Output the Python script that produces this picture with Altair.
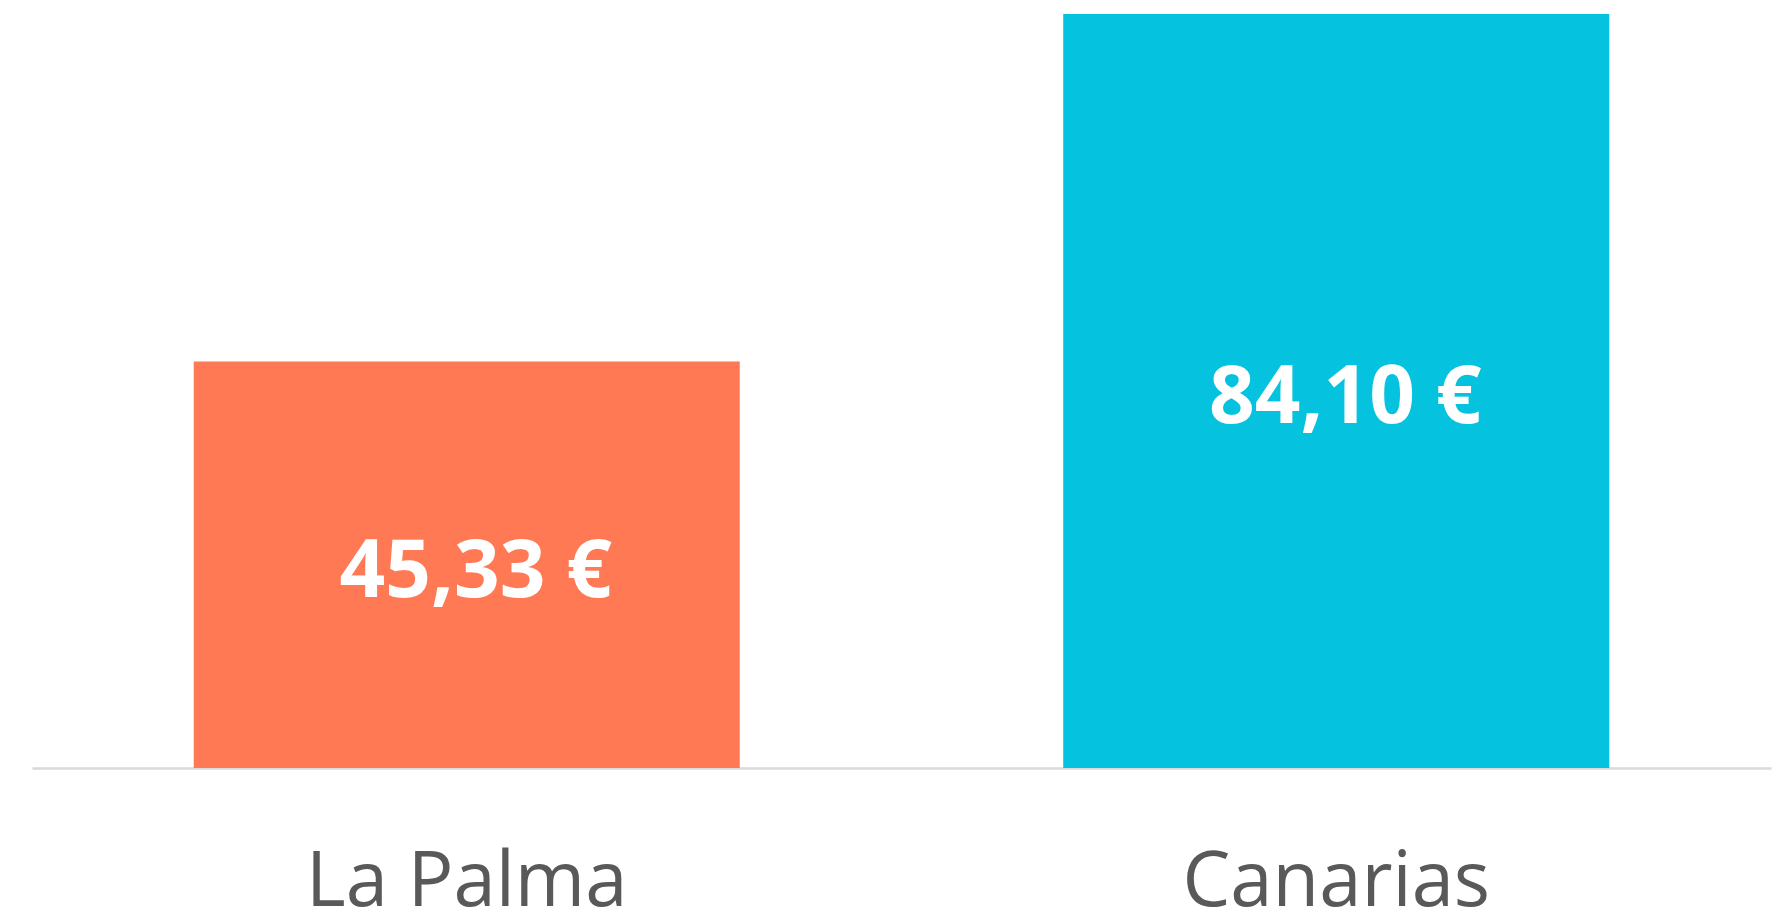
import altair as alt
import pandas as pd

categories = ["La Palma", "Canarias"]
values = [45.33, 84.10]
value_labels = ["45,33 €", "84,10 €"]
colors = ["#FF7A54", "#05C3DE"]

df = pd.DataFrame({"cat": categories, "val": values, "lab": value_labels})

x = alt.X("cat:N", sort=categories, title=None,
          scale=alt.Scale(paddingInner=0.372, paddingOuter=0.186))
y_scale = alt.Scale(domain=[0, 84.10], nice=False, zero=True)

bars = alt.Chart(df).mark_bar().encode(
    x=x,
    y=alt.Y("val:Q", scale=y_scale, axis=None),
    color=alt.Color("cat:N", scale=alt.Scale(domain=categories, range=colors), legend=None),
)

texts = alt.Chart(df).transform_calculate(mid="datum.val / 2").mark_text(
    font="Open Sans", fontWeight="bold", fontSize=80, color="white", baseline="middle",
    align="center", dx=9, dy=8
).encode(
    x=alt.X("cat:N", sort=categories, title=None),
    y=alt.Y("mid:Q", scale=y_scale, axis=None),
    text="lab:N",
)

chart = alt.layer(bars, texts).properties(
    width=1739, height=754,
    background="white",
    autosize=alt.AutoSizeParams(type="none"),
    padding={"left": 24, "top": 6, "right": 13, "bottom": 141},
).configure_view(strokeWidth=0, stroke="transparent").configure_axisX(
    labelAngle=0, labelFontSize=76, labelColor="#595959", labelFont="Open Sans",
    ticks=False, domainColor="#D9D9D9", domainWidth=2.5, labelPadding=137,
    labelBaseline="alphabetic", labelLimit=0, grid=False,
)

chart.save("out.html", embed_options={"renderer": "svg", "actions": False})
